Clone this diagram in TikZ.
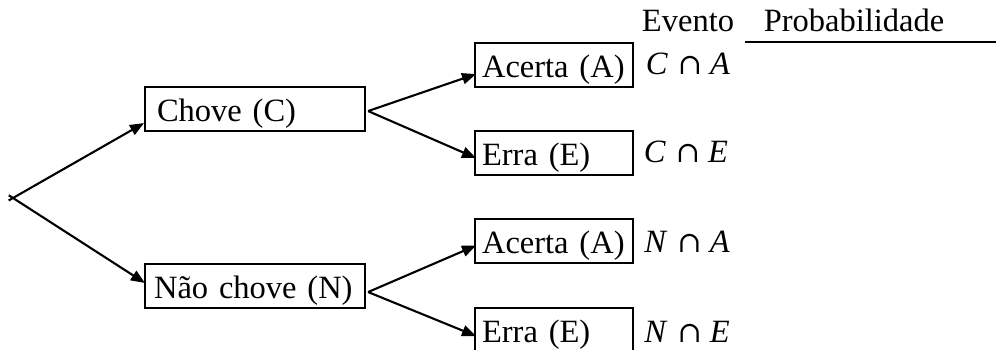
\documentclass[tikz,border=0pt]{standalone}
\usepackage{fontspec}
\setmainfont{Liberation Serif}
\newfontfamily\symfont{DejaVu Serif}
\usetikzlibrary{arrows.meta,calc}
\tikzset{
  box/.style={draw, line width=2.1pt, anchor=north west, minimum height=44pt,
    inner xsep=0pt, inner ysep=0pt, text height=24pt, text depth=0pt,
    align=left, font=\fontsize{32.5}{36}\selectfont},
  arr/.style={line width=2.1pt, -{Triangle[length=14pt,width=11pt]}},
  lbl/.style={anchor=base, inner sep=0pt, font=\fontsize{32.5}{36}\selectfont},
}
\newcommand{\ev}[2]{\textit{#1}\hspace{10pt}{\symfont\fontsize{29}{30}\selectfont ∩}\hspace{8pt}\textit{#2}}
\begin{document}
\begin{tikzpicture}[x=1pt,y=-1pt]
\clip (0,0) rectangle (996,350);
\fill[white] (0,0) rectangle (996,350);
% boxes
\node[box, minimum width=220pt, text width=214pt] (C) at (144,86) {\hspace*{9pt}Chove (C)};
\node[box, minimum width=220pt, text width=214pt] (N) at (144,263) {\hspace*{6pt}Não chove (N)};
\node[box, minimum width=158pt, text width=154pt] (A1) at (474,42) {\hspace*{5pt}Acerta (A)};
\node[box, minimum width=158pt, text width=154pt] (E1) at (474,130) {\hspace*{5pt}Erra (E)};
\node[box, minimum width=158pt, text width=154pt] (A2) at (474,218) {\hspace*{5pt}Acerta (A)};
\node[box, minimum width=158pt, text width=154pt] (E2) at (474,307) {\hspace*{5pt}Erra (E)};
% root
\coordinate (root) at (13,198);
\coordinate (tC) at ($(C.south west)+(0,-9)$);
\coordinate (tN) at ($(N.north west)+(1,20)$);
\draw[arr] ($(root)!-5pt!(tC)$) -- (tC);
\draw[arr] ($(root)!-5pt!(tN)$) -- (tN);
% second level
\coordinate (sC) at ($(C.east)+(2,2)$);
\coordinate (sN) at ($(N.east)+(2,6)$);
\draw[arr] (sC) -- ($(A1.west)+(2,9)$);
\draw[arr] (sC) -- ($(E1.west)+(2,5)$);
\draw[arr] (sN) -- ($(A2.west)+(2,4.5)$);
\draw[arr] (sN) -- ($(E2.west)+(2,6)$);
% headers
\node[lbl] (hev) at (688,32) {Evento};
\node[lbl] (hpr) at (854,32) {Probabilidade};
\coordinate (l1) at (745,42);
\coordinate (l2) at (996,42);
\draw[line width=2.1pt] (l1) -- (l2);
% events
\node[lbl] (e1) at (688,75) {\ev{C}{A}};
\node[lbl] (e2) at (686,163) {\ev{C}{E}};
\node[lbl] (e3) at (687,252) {\ev{N}{A}};
\node[lbl] (e4) at (687,342) {\ev{N}{E}};
\end{tikzpicture}
\end{document}
